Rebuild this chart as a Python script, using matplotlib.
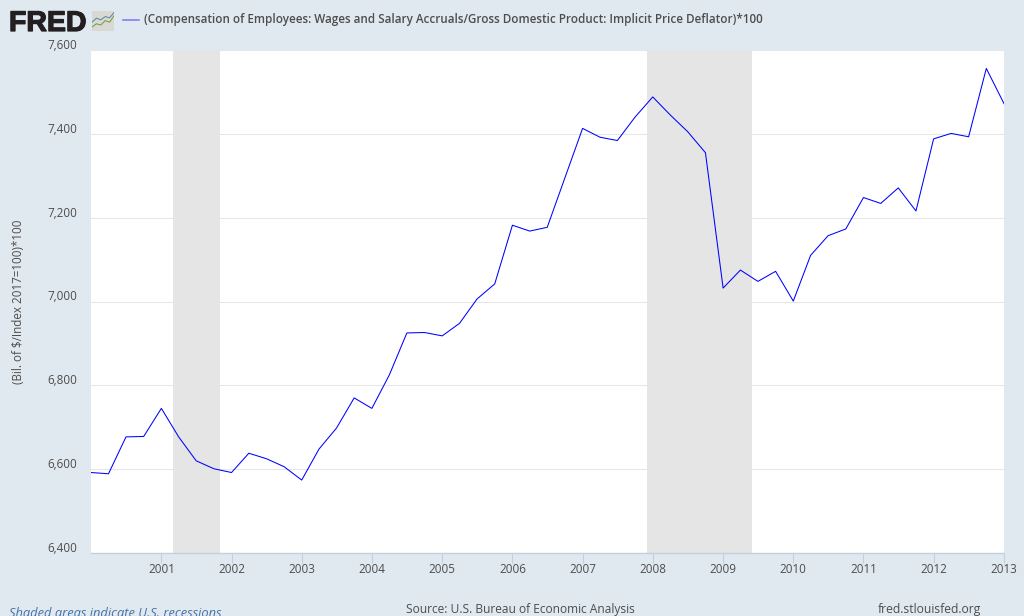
from datetime import datetime

import matplotlib.dates as mdates
import matplotlib.patheffects as pe
import matplotlib.pyplot as plt
from matplotlib.ticker import FuncFormatter
from matplotlib.transforms import ScaledTranslation

plt.rcParams["font.family"] = ["Open Sans", "DejaVu Sans"]

BG = "#e1e9f0"
TEXT = "#4d4d4d"

series_name = (
    "(Compensation of Employees: Wages and Salary Accruals/"
    "Gross Domestic Product: Implicit Price Deflator)*100"
)
y_label = "(Bil. of $/Index 2017=100)*100"

quarters = [
    datetime(year, month, 1)
    for year in range(2000, 2014)
    for month in (1, 4, 7, 10)
][:53]
values = [
    6592, 6589, 6677, 6678,
    6745, 6677, 6620, 6601,
    6592, 6638, 6625, 6606,
    6574, 6648, 6698, 6770,
    6745, 6825, 6925, 6926,
    6918, 6948, 7006, 7042,
    7182, 7168, 7177, 7295,
    7413, 7392, 7384, 7440,
    7488, 7445, 7405, 7355,
    7032, 7075, 7048, 7072,
    7001, 7110, 7157, 7173,
    7248, 7234, 7271, 7216,
    7388, 7401, 7393, 7556,
    7472,
]
recessions = [
    (datetime(2001, 3, 1), datetime(2001, 11, 1)),
    (datetime(2007, 12, 1), datetime(2009, 6, 1)),
]
y_ticks = [6400, 6600, 6800, 7000, 7200, 7400, 7600]
x_years = list(range(2001, 2014))

fig = plt.figure(figsize=(10.24, 6.16), dpi=100, facecolor=BG)
ax = fig.add_axes([91 / 1024, 1 - 553 / 616, 913 / 1024, 503 / 616])

for start, end in recessions:
    ax.axvspan(start, end, color="#e5e5e5", lw=0, zorder=1)

ax.plot(quarters, values, color="#0000ff", lw=0.75, zorder=3)

ax.set_xlim(datetime(2000, 1, 1), datetime(2013, 1, 1))
ax.set_ylim(6400, 7600)
ax.set_yticks(y_ticks)
ax.yaxis.set_major_formatter(FuncFormatter(lambda v, _: f"{v:,.0f}"))
ax.set_xticks([datetime(y, 1, 1) for y in x_years])
ax.xaxis.set_major_formatter(mdates.DateFormatter("%Y"))

ax.grid(axis="y", color="#e6e6e6", lw=0.75)
ax.set_axisbelow(True)
for side in ("top", "right", "left"):
    ax.spines[side].set_visible(False)
ax.spines["bottom"].set_color("#c0d0e0")
ax.spines["bottom"].set_linewidth(1)
ax.tick_params(axis="x", length=7.2, width=0.75, color="#c0d0e0",
               labelcolor=TEXT, labelsize=8.4, pad=0)
ax.tick_params(axis="y", length=0, labelcolor=TEXT, labelsize=8.4, pad=10)

# Y labels sit a little above their gridlines
for label in ax.get_yticklabels():
    label.set_transform(label.get_transform() + ScaledTranslation(0, 6 / 72 * 0.72, fig.dpi_scale_trans))

fig.text(19 / 1024, 1 - 302 / 616, y_label, color=TEXT, fontsize=8.4,
         rotation=90, ha="center", va="center")

# Header: logo and legend
fig.text(9 / 1024, 1 - 31 / 616, "FRED", fontsize=20.5, fontweight="bold",
         color="#231f20", family=["Liberation Sans", "DejaVu Sans"],
         path_effects=[pe.withStroke(linewidth=0.9, foreground="#231f20")])
icon = fig.add_axes([92 / 1024, 1 - 31 / 616, 22 / 1024, 20 / 616],
                    facecolor="#d8d9d3")
icon.plot([0, 1, 2, 3, 4, 5], [2.2, 3.2, 2.8, 3.6, 3.3, 4.6], color="#5b7f9f", lw=0.7)
icon.plot([0, 1, 2, 3, 4, 5], [1, 1.8, 1.5, 2.6, 2.2, 3.8], color="#6f9a3c", lw=0.7)
icon.set_xlim(0, 5)
icon.set_ylim(0, 5)
icon.set_xticks([])
icon.set_yticks([])
for side in icon.spines:
    icon.spines[side].set_visible(False)

fig.add_artist(plt.Line2D([123 / 1024, 139 / 1024], [1 - 20 / 616] * 2,
                          color="#7777ff", lw=1.1))
fig.text(144 / 1024, 1 - 20 / 616, series_name, fontsize=8.37, fontweight="semibold",
         color=TEXT, va="center")

# Footer, cut by the bottom edge as in the source image
fig.text(9 / 1024, 1 - 617 / 616, "Shaded areas indicate U.S. recessions",
         fontsize=9.3, style="italic", color="#4572a7", va="baseline")
fig.text(520.5 / 1024, 1 - 613 / 616, "Source: U.S. Bureau of Economic Analysis",
         fontsize=8.65, color=TEXT, ha="center", va="baseline")
fig.text(981 / 1024, 1 - 613 / 616, "fred.stlouisfed.org",
         fontsize=8.7, color=TEXT, ha="right", va="baseline")

fig.savefig("out.png", dpi=100, facecolor=BG)
